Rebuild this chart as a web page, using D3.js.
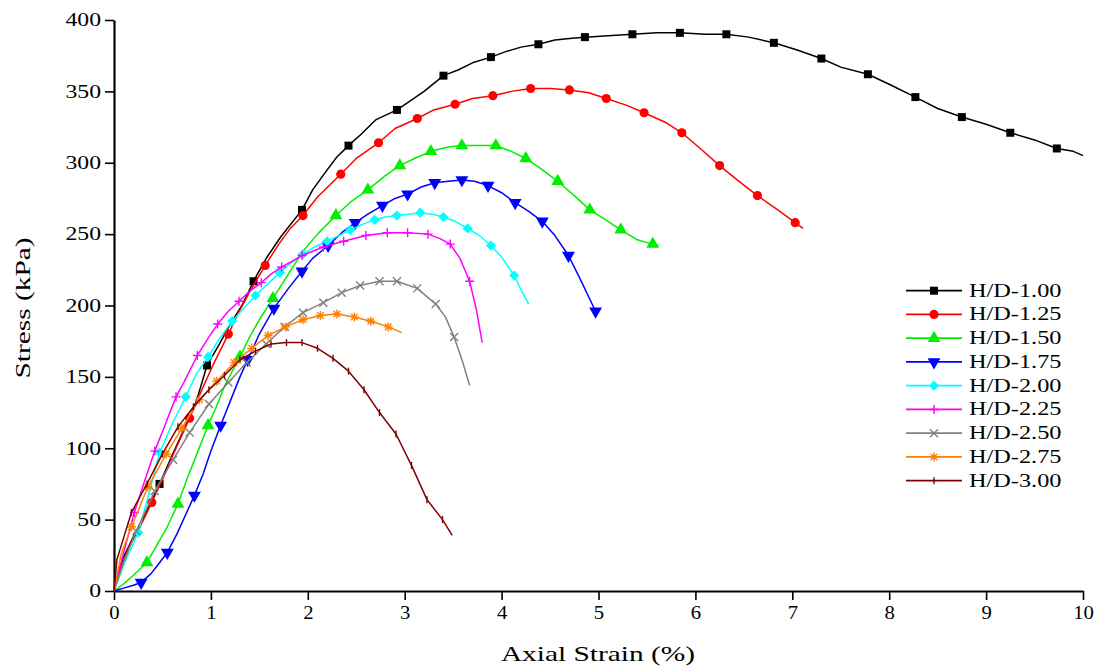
<!DOCTYPE html>
<html><head><meta charset="utf-8">
<script src="https://cdn.jsdelivr.net/npm/d3@7"></script>
<style>body{margin:0;background:#fff}</style>
</head><body>
<svg id="chart" width="1098" height="666"></svg>
<script>
// ---- data (strain %, stress kPa, marker flag) ----
const xTicks = [0,1,2,3,4,5,6,7,8,9,10];
const xMinorTicks = [0.5,1.5,2.5,3.5,4.5,5.5,6.5,7.5,8.5,9.5];
const yTicks = [0,50,100,150,200,250,300,350,400];
const yMinorTicks = d3.range(0,401,10).filter(v => v % 50 !== 0);
const seriesNames = ["H/D-1.00","H/D-1.25","H/D-1.50","H/D-1.75","H/D-2.00","H/D-2.25","H/D-2.50","H/D-2.75","H/D-3.00"];

const hd100 = [[0,0,0],[0.04,12,0],[0.1,24,0],[0.2,38,0],[0.33,55,0],[0.47,75,1],[0.6,95,0],[0.72,113,0],[0.85,133,0],[0.96,158,1],[1.08,172,0],[1.2,187,0],[1.32,200,0],[1.44,217,1],[1.58,234,0],[1.72,248,0],[1.94,267,1],[2.05,281,0],[2.2,295,0],[2.3,304,0],[2.42,312,1],[2.55,320,0],[2.7,330,0],[2.92,337,1],[3.05,343,0],[3.2,350,0],[3.4,361,1],[3.55,365,0],[3.7,370,0],[3.89,374,1],[4.05,378,0],[4.2,381,0],[4.38,383,1],[4.55,386,0],[4.7,387,0],[4.86,388,1],[5.1,389,0],[5.35,390,1],[5.6,391,0],[5.84,391,1],[6.1,390,0],[6.32,390,1],[6.55,388,0],[6.81,384,1],[7.05,379,0],[7.30,373,1],[7.5,367,0],[7.78,362,1],[8.0,355,0],[8.27,346,1],[8.5,338,0],[8.75,332,1],[9.0,327,0],[9.25,321,1],[9.5,316,0],[9.73,310,1],[9.9,308,0],[10,305,0]];
const hd125 = [[0,0,0],[0.06,14,0],[0.15,30,0],[0.27,45,0],[0.39,62,1],[0.5,78,0],[0.62,97,0],[0.78,121,1],[0.9,140,0],[1.02,158,0],[1.18,180,1],[1.3,197,0],[1.42,212,0],[1.56,228,1],[1.7,243,0],[1.82,254,0],[1.95,263,1],[2.1,276,0],[2.34,292,1],[2.5,303,0],[2.73,314,1],[2.9,324,0],[3.13,331,1],[3.3,337,0],[3.52,341,1],[3.7,345,0],[3.91,347,1],[4.1,350,0],[4.30,352,1],[4.5,352,0],[4.70,351,1],[4.9,349,0],[5.08,345,1],[5.3,340,0],[5.47,335,1],[5.7,328,0],[5.86,321,1],[6.05,310,0],[6.25,298,1],[6.45,287,0],[6.64,277,1],[6.85,267,0],[7.03,258,1],[7.11,254,0]];
const hd150 = [[0,0,0],[0.1,5,0],[0.2,11,0],[0.34,20,1],[0.45,33,0],[0.55,45,0],[0.66,61,1],[0.75,78,0],[0.85,95,0],[0.97,116,1],[1.05,128,0],[1.15,145,0],[1.30,164,1],[1.4,178,0],[1.5,190,0],[1.64,205,1],[1.8,222,0],[1.95,238,0],[2.1,250,0],[2.29,263,1],[2.45,273,0],[2.62,281,1],[2.8,291,0],[2.95,298,1],[3.1,303,0],[3.27,308,1],[3.45,311,0],[3.59,312,1],[3.75,312,0],[3.94,312,1],[4.1,308,0],[4.25,303,1],[4.4,296,0],[4.58,287,1],[4.75,277,0],[4.91,267,1],[5.05,261,0],[5.23,253,1],[5.4,246,0],[5.56,243,1],[5.62,242,0]];
const hd175 = [[0,0,0],[0.1,2,0],[0.2,4,0],[0.28,6,1],[0.38,12,0],[0.45,18,0],[0.55,27,1],[0.65,40,0],[0.75,55,0],[0.83,67,1],[0.92,82,0],[1.0,98,0],[1.10,116,1],[1.2,133,0],[1.3,150,0],[1.38,162,1],[1.5,180,0],[1.65,198,1],[1.8,212,0],[1.94,224,1],[2.05,233,0],[2.21,242,1],[2.35,251,0],[2.49,258,1],[2.62,264,0],[2.77,270,1],[2.9,275,0],[3.03,278,1],[3.17,283,0],[3.31,286,1],[3.45,287,0],[3.59,288,1],[3.72,287,0],[3.86,284,1],[4.0,279,0],[4.14,272,1],[4.28,266,0],[4.42,259,1],[4.55,249,0],[4.69,235,1],[4.8,220,0],[4.97,196,1]];
const hd200 = [[0,0,0],[0.1,18,0],[0.25,41,1],[0.36,68,0],[0.47,97,1],[0.6,117,0],[0.74,136,1],[0.85,152,0],[0.97,164,1],[1.1,178,0],[1.22,189,1],[1.35,199,0],[1.46,207,1],[1.6,216,0],[1.71,223,1],[1.83,230,0],[1.95,236,1],[2.07,241,0],[2.2,245,1],[2.32,249,0],[2.44,253,1],[2.57,257,0],[2.69,260,1],[2.8,262,0],[2.92,263,1],[3.04,264,0],[3.16,265,1],[3.28,264,0],[3.40,262,1],[3.52,259,0],[3.65,254,1],[3.77,249,0],[3.89,242,1],[4.0,234,0],[4.13,221,1],[4.2,211,0],[4.28,201,0]];
const hd225 = [[0,0,0],[0.08,22,0],[0.21,55,1],[0.32,78,0],[0.42,98,1],[0.52,115,0],[0.64,136,1],[0.72,146,0],[0.86,165,1],[0.97,177,0],[1.07,187,1],[1.18,196,0],[1.29,203,1],[1.4,210,0],[1.52,216,1],[1.62,222,0],[1.73,227,1],[1.84,231,0],[1.94,235,1],[2.05,238,0],[2.16,241,1],[2.37,245,1],[2.60,249,1],[2.82,251,1],[3.03,251,1],[3.24,250,1],[3.36,247,0],[3.47,243,1],[3.57,233,0],[3.67,217,1],[3.74,197,0],[3.80,174,0]];
const hd250 = [[0,0,0],[0.1,20,0],[0.23,42,1],[0.42,70,1],[0.61,92,1],[0.78,111,1],[0.98,131,1],[1.18,146,1],[1.37,160,1],[1.57,173,1],[1.76,185,1],[1.95,195,1],[2.16,202,1],[2.35,209,1],[2.54,214,1],[2.74,217,1],[2.92,217,1],[3.13,212,1],[3.32,201,1],[3.42,192,0],[3.51,178,1],[3.6,160,0],[3.67,144,0]];
const hd275 = [[0,0,0],[0.07,25,0],[0.18,45,1],[0.35,73,1],[0.54,96,1],[0.70,114,1],[0.88,134,1],[1.06,147,1],[1.24,160,1],[1.42,170,1],[1.59,179,1],[1.77,185,1],[1.95,190,1],[2.13,193,1],[2.30,194,1],[2.48,192,1],[2.65,189,1],[2.83,185,1],[2.97,181,0]];
const hd300 = [[0,0,0],[0.03,22,0],[0.08,33,0],[0.18,55,1],[0.34,75,1],[0.50,96,1],[0.66,115,1],[0.82,129,1],[0.98,141,1],[1.14,151,1],[1.30,162,1],[1.46,168,1],[1.62,173,1],[1.78,174,1],[1.94,174,1],[2.10,170,1],[2.26,163,1],[2.42,154,1],[2.58,141,1],[2.74,125,1],[2.91,110,1],[3.07,88,1],[3.23,64,1],[3.39,50,1],[3.49,39,0]];

const seriesData = [hd100,hd125,hd150,hd175,hd200,hd225,hd250,hd275,hd300];
const colors = ["#000000","#ff0000","#00ee00","#0000ff","#00ffff","#ff00ff","#808080","#ff8000","#800000"];
const markerKinds = ["square","circle","triangle","triangleDown","diamond","plus","cross","asterisk","bar"];

// ---- layout ----
const svg = d3.select("#chart");
const x = d3.scaleLinear().domain([0,10]).range([114,1083]);
const y = d3.scaleLinear().domain([0,400]).range([591,20]);
const SERIF = "'Liberation Serif','Times New Roman',serif";
const SX = 1.32;

function markerPath(kind){
  switch(kind){
    case "square": return d3.symbol(d3.symbolSquare,64)();
    case "circle": return d3.symbol(d3.symbolCircle,66)();
    case "triangle": return d3.symbol(d3.symbolTriangle,72)();
    case "triangleDown": return d3.symbol(d3.symbolTriangle,72)();
    case "diamond": return d3.symbol(d3.symbolSquare,52)();
    case "plus": return "M-4.5,0H4.5M0,-4.5V4.5";
    case "cross": return "M-4,-4L4,4M-4,4L4,-4";
    case "asterisk": return "M-4.5,0H4.5M0,-4.5V4.5M-3.3,-3.3L3.3,3.3M-3.3,3.3L3.3,-3.3";
    case "bar": return "M0,-3.5V3.5";
  }
}
function markerRot(kind){
  if(kind==="triangleDown") return 180;
  if(kind==="diamond") return 45;
  return 0;
}
function isStroke(kind){ return ["plus","cross","asterisk","bar"].includes(kind); }

function drawMarker(g, kind, color, px, py){
  const p = g.append("path")
    .attr("d", markerPath(kind))
    .attr("transform", `translate(${px},${py}) rotate(${markerRot(kind)})`);
  if(isStroke(kind)) p.attr("fill","none").attr("stroke",color).attr("stroke-width",1.4);
  else p.attr("fill",color).attr("stroke","none");
}

// ---- axes ----
const gx = svg.append("g").attr("transform","translate(0,591)");
gx.call(d3.axisBottom(x).tickValues(xMinorTicks).tickSize(5).tickSizeOuter(0).tickFormat(""));
gx.call(d3.axisBottom(x).tickValues(xTicks).tickSize(9).tickSizeOuter(0).tickPadding(6).tickFormat(d3.format("d")));
gx.selectAll(".domain").attr("stroke-width",2.2);
gx.selectAll(".tick line").attr("stroke-width",1.6);
gx.selectAll(".tick text").attr("font-family",SERIF).attr("font-size",18).attr("fill","#000")
  .attr("transform",`scale(1.15,1)`);

const gy = svg.append("g").attr("transform","translate(114,0)");
gy.call(d3.axisLeft(y).tickValues(yMinorTicks).tickSize(5).tickSizeOuter(0).tickFormat(""));
gy.call(d3.axisLeft(y).tickValues(yTicks).tickSize(9).tickSizeOuter(0).tickPadding(4).tickFormat(d3.format("d")));
gy.selectAll(".domain").attr("stroke-width",2.2);
gy.selectAll(".tick line").attr("stroke-width",1.6);
gy.selectAll(".tick text").attr("font-family",SERIF).attr("font-size",18).attr("fill","#000")
  .attr("x",-13/SX).attr("transform",`scale(${SX},1)`);

// axis titles
svg.append("text").attr("transform",`translate(598,661) scale(1.4,1)`)
  .attr("text-anchor","middle").attr("font-family",SERIF).attr("font-size",21).text("Axial Strain (%)");
svg.append("text").attr("transform",`translate(30,308) rotate(-90) scale(1.4,1)`)
  .attr("text-anchor","middle").attr("font-family",SERIF).attr("font-size",21).text("Stress (kPa)");

// ---- series ----
const line = d3.line().x(d => x(d[0])).y(d => y(d[1]));
const plot = svg.append("g");
seriesData.forEach((data,i) => {
  const g = plot.append("g");
  g.append("path").datum(data).attr("d",line).attr("fill","none")
    .attr("stroke",colors[i]).attr("stroke-width",1.5).attr("stroke-linejoin","round");
  data.filter(d => d[2]===1).forEach(d => drawMarker(g, markerKinds[i], colors[i], x(d[0]), y(d[1])));
});

// ---- legend ----
const leg = svg.append("g");
seriesNames.forEach((name,i) => {
  const ly = 290.7 + i*23.75;
  leg.append("line").attr("x1",906).attr("x2",962).attr("y1",ly).attr("y2",ly)
    .attr("stroke",colors[i]).attr("stroke-width",1.8);
  drawMarker(leg, markerKinds[i], colors[i], 934, ly);
  leg.append("text").attr("transform",`translate(969,${ly+6}) scale(1.35,1)`)
    .attr("font-family",SERIF).attr("font-size",18).attr("fill","#000").text(name);
});
</script>
</body></html>
